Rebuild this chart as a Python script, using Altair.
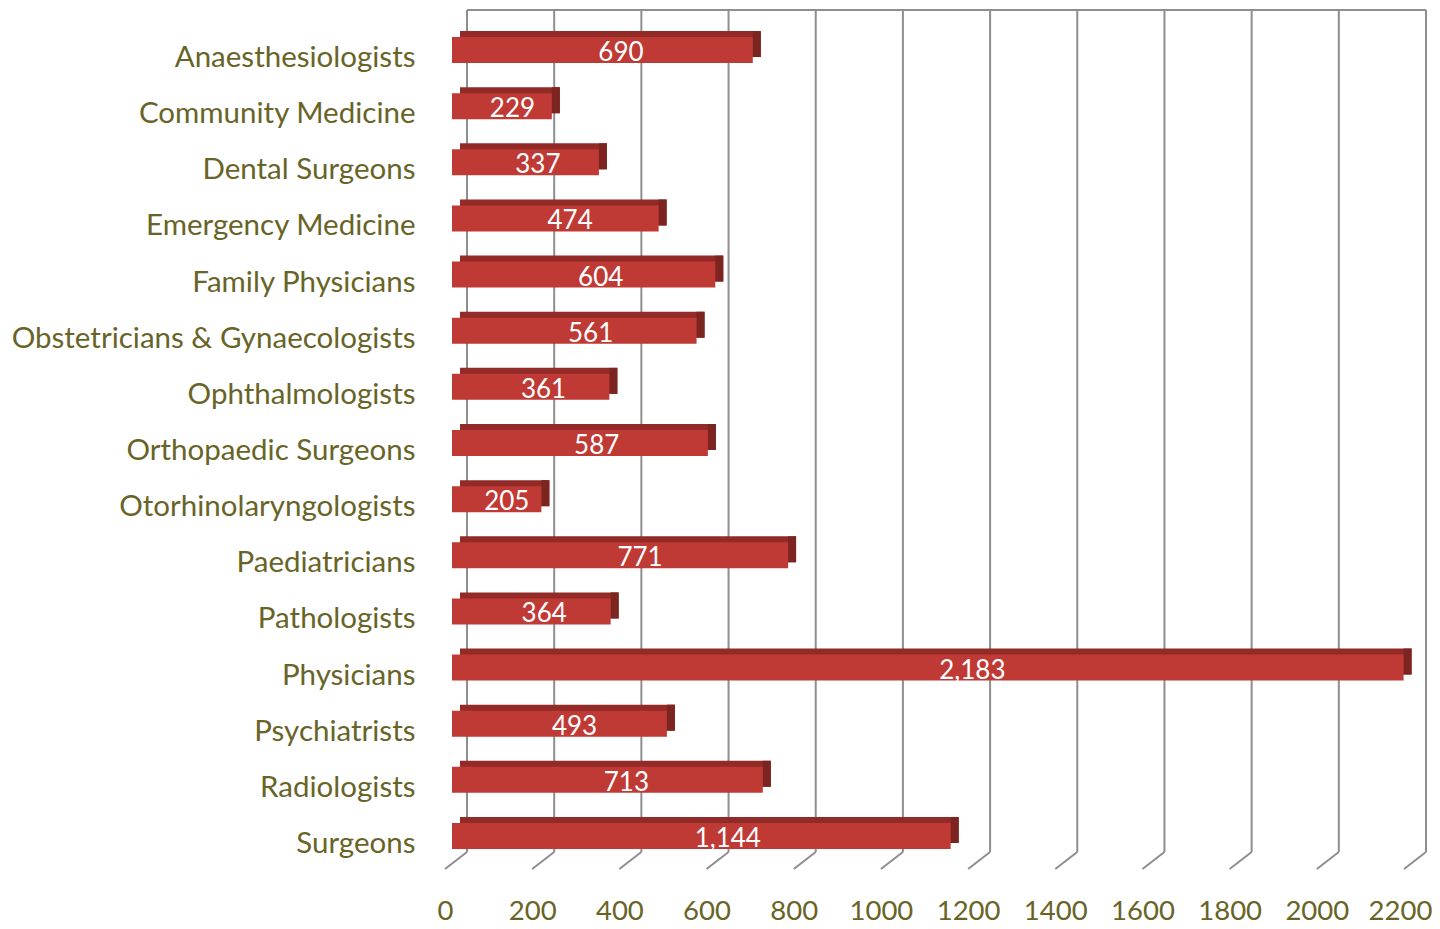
import altair as alt
import pandas as pd

categories = ["Anaesthesiologists", "Community Medicine", "Dental Surgeons",
              "Emergency Medicine", "Family Physicians",
              "Obstetricians & Gynaecologists", "Ophthalmologists",
              "Orthopaedic Surgeons", "Otorhinolaryngologists", "Paediatricians",
              "Pathologists", "Physicians", "Psychiatrists", "Radiologists", "Surgeons"]
values = [690, 229, 337, 474, 604, 561, 361, 587, 205, 771, 364, 2183, 493, 713, 1144]
ticks = [0, 200, 400, 600, 800, 1000, 1200, 1400, 1600, 1800, 2000, 2200]

df = pd.DataFrame({"cat": categories, "value": values})
dt = pd.DataFrame({"tick": ticks})

FONT = "Lato"
LABEL = "#686427"
GRID = "#8E8E8E"

xscale = alt.Scale(domain=[0, 2200], nice=False, zero=True)
yscale = alt.Scale(paddingInner=0, paddingOuter=0)

xaxis = alt.Axis(values=ticks, grid=False, domain=False, ticks=False,
                 labelFont=FONT, labelFontSize=27.5, labelColor=LABEL,
                 labelOffset={"condition": {"test": "datum.value >= 2200", "value": -11},
                              "value": -7},
                 labelPadding=33, title=None, format="d",
                 labelOverlap=False, labelFlush=False)
yaxis = alt.Axis(grid=False, domain=False, ticks=False, labelFont=FONT,
                 labelFontSize=29.5, labelColor=LABEL, labelPadding=37,
                 labelOffset=8, title=None, labelLimit=600)

grid = alt.Chart(dt).mark_rule(color=GRID, strokeWidth=2, xOffset=15, x2Offset=15).encode(
    x=alt.X("tick:Q", scale=xscale, axis=xaxis),
    y=alt.value(-12), y2=alt.value(830))

floor = alt.Chart(dt).mark_rule(color=GRID, strokeWidth=2, xOffset=15, x2Offset=-7).encode(
    x=alt.X("tick:Q", scale=xscale), x2="tick:Q",
    y=alt.value(830), y2=alt.value(847))

topline = alt.Chart(dt).mark_rule(color=GRID, strokeWidth=2, xOffset=15, x2Offset=15).encode(
    x=alt.X("min(tick):Q", scale=xscale), x2="max(tick):Q",
    y=alt.value(-12))

topface = alt.Chart(df).mark_bar(color="#922B27", size=26, xOffset=8, x2Offset=8,
                                 yOffset=-6).encode(
    x=alt.X("value:Q", scale=xscale),
    y=alt.Y("cat:N", sort=categories, scale=yscale, axis=yaxis))

sideface = alt.Chart(df).mark_bar(color="#7B2420", size=26, x2Offset=8,
                                  yOffset=-6).encode(
    x=alt.X("value:Q", scale=xscale), x2="value:Q",
    y=alt.Y("cat:N", sort=categories, scale=yscale))

front = alt.Chart(df).mark_bar(color="#BF3A35", size=26).encode(
    x=alt.X("value:Q", scale=xscale),
    y=alt.Y("cat:N", sort=categories, scale=yscale))

labels = alt.Chart(df).transform_calculate(
    mid="datum.value * 0.54 + 15"
).mark_text(color="white", font=FONT, fontSize=26, dy=3).encode(
    x=alt.X("mid:Q", scale=xscale),
    y=alt.Y("cat:N", sort=categories, scale=yscale),
    text=alt.Text("value:Q", format=","))

chart = alt.layer(grid, floor, topline, topface, sideface, front, labels).properties(
    width=959, height=842,
    background="white",
    autosize=alt.AutoSizeParams(type="none"),
    padding={"left": 444, "top": 14, "right": 21, "bottom": 64},
).configure_view(strokeWidth=0, stroke="transparent")

chart.save("out.html", embed_options={"renderer": "svg", "actions": False})
